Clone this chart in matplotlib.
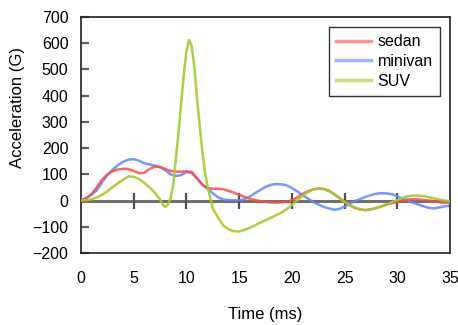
import matplotlib
matplotlib.use("Agg")
import matplotlib.pyplot as plt

plt.rcParams['font.family'] = ['Liberation Sans', 'DejaVu Sans']

sedan_t = [0, 0.5, 1, 1.5, 2, 2.5, 3, 3.5, 4, 4.5, 5, 5.5, 6, 6.5, 7, 7.5, 8, 8.5, 9, 9.5,
           10, 10.5, 11, 11.5, 12, 12.5, 13, 13.5, 14, 14.5, 15, 15.5, 16, 16.5, 17, 17.5,
           18, 18.5, 19, 19.5, 20, 20.5, 21, 21.5, 22, 22.5, 23, 23.5, 24, 24.5, 25, 25.5,
           26, 26.5, 27, 27.5, 28, 28.5, 29, 29.5, 30, 30.5, 31, 31.5, 32, 32.5, 33, 33.5,
           34, 34.5, 35]
sedan_v = [0, 8, 25, 50, 80, 100, 112, 119, 121, 120, 113, 104, 106, 120, 130, 128, 120, 113, 110, 110,
           112, 105, 85, 60, 48, 45, 45, 43, 37, 30, 22, 14, 7, 2, -2, -5,
           -7, -8, -7, -4, 0, 12, 25, 35, 42, 46, 44, 38, 25, 10, -4, -18,
           -28, -34, -36, -33, -28, -22, -15, -10, -5, 0, 4, 5, 4, 2, 0, -3,
           -6, -8, -10]

minivan_t = sedan_t
minivan_v = [0, 10, 22, 40, 70, 97, 118, 135, 148, 156, 158, 152, 142, 138, 133, 127, 115, 100, 94, 97,
             108, 110, 85, 62, 45, 28, 12, 4, 2, 1, 1, 5, 15, 28, 40, 52,
             60, 63, 62, 58, 48, 35, 22, 8, -5, -15, -24, -30, -35, -32, -23, -12,
             -2, 6, 14, 21, 26, 28, 27, 24, 17, 7, -2, -8, -15, -22, -28, -30,
             -26, -22, -20]

suv_t = [0, 0.5, 1, 1.5, 2, 2.5, 3, 3.5, 4, 4.5, 5, 5.5, 6, 6.5, 7, 7.5, 7.75, 8, 8.25, 8.5,
         8.75, 9, 9.25, 9.5, 9.75, 10, 10.25, 10.5, 10.75, 11, 11.25, 11.5, 11.75, 12, 12.5, 13,
         13.5, 14, 14.5, 15, 15.5, 16, 16.5, 17, 17.5, 18, 18.5, 19, 19.5, 20, 20.5, 21,
         21.5, 22, 22.5, 23, 23.5, 24, 24.5, 25, 25.5, 26, 26.5, 27, 27.5, 28, 28.5, 29,
         29.5, 30, 30.5, 31, 31.5, 32, 32.5, 33, 33.5, 34, 34.5, 35]
suv_v = [0, 1, 5, 12, 22, 35, 52, 66, 80, 92, 91, 82, 68, 50, 30, 5, -15, -25, -15, 10,
         60, 160, 260, 370, 480, 570, 612, 590, 510, 390, 290, 190, 110, 55, -30, -65,
         -95, -110, -117, -118, -112, -104, -95, -84, -75, -66, -56, -46, -33, -17, 0, 18,
         32, 42, 46, 44, 36, 24, 9, -5, -18, -28, -34, -37, -35, -29, -22, -14,
         -6, 2, 10, 16, 19, 19, 17, 13, 8, 4, 0, -3]

x_ticks = [0, 5, 10, 15, 20, 25, 30, 35]
y_ticks = [-200, -100, 0, 100, 200, 300, 400, 500, 600, 700]

fs = 11.5
fig = plt.figure(figsize=(4.58, 3.25), dpi=100)
ax = fig.add_axes([81/458, 1 - 253/325, (450-81)/458, (253-17)/325])

ax.axhline(0, color='#707070', lw=2.2, zorder=1)
ax.plot(x_ticks[1:-1], [0]*6, ls='none', marker='|', ms=12, mew=1.6, color='#505050', zorder=1)

ax.plot(sedan_t, sedan_v, color='#ff4a4a', lw=1.8, alpha=0.85, label='sedan', zorder=3)
ax.plot(minivan_t, minivan_v, color='#5f86ff', lw=1.8, alpha=0.85, label='minivan', zorder=2)
ax.plot(suv_t, suv_v, color='#a2cc2a', lw=1.8, alpha=0.9, label='SUV', zorder=4)

ax.set_xlim(0, 35)
ax.set_ylim(-200, 700)
ax.set_xticks(x_ticks)
ax.set_yticks(y_ticks)
ax.tick_params(axis='x', length=0, pad=13, labelsize=fs)
ax.tick_params(axis='y', direction='in', length=6, width=1.6, color='#606060', pad=9, labelsize=fs)
for s in ax.spines.values():
    s.set_color('#202020')
    s.set_linewidth(1.2)

ax.set_xlabel('Time (ms)', fontsize=12, labelpad=15)
ax.set_ylabel('Acceleration (G)', fontsize=12)
ax.yaxis.set_label_coords((25 - 81) / 369, (253 - 108) / 236)

leg = ax.legend(loc='upper right', bbox_to_anchor=(440/458, 1 - 27/325), bbox_transform=fig.transFigure,
                frameon=True, fancybox=False, edgecolor='black', fontsize=fs,
                handlelength=2.2, handletextpad=0.4, borderpad=0.45, labelspacing=0.3,
                borderaxespad=0)
leg.get_frame().set_linewidth(1.0)
for h in leg.get_lines():
    h.set_linewidth(2.5)
    h.set_alpha(0.6)

fig.savefig('out.png', dpi=100)
